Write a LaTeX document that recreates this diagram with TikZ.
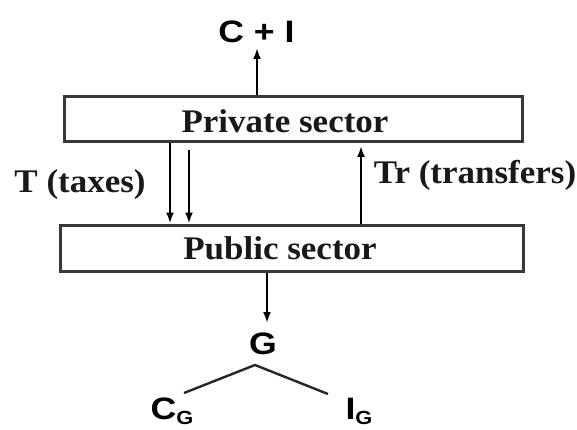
\documentclass[tikz,border=0pt]{standalone}
\usepackage{fontspec}
\newfontfamily\serifb[FakeStretch=1.06]{Liberation Serif}
\newfontfamily\sansb[FakeStretch=1.15]{Liberation Sans}
\usetikzlibrary{arrows.meta}
\newcommand{\subG}{\raisebox{-5pt}{\fontsize{19}{20}\selectfont G}}
\begin{document}
\begin{tikzpicture}[x=1pt,y=-1pt,
  sectorbox/.style={draw=black!78,line width=3pt,inner sep=0pt},
  serlabel/.style={inner sep=0pt,anchor=base,text=black!90,font=\serifb\bfseries\fontsize{33}{36}\selectfont},
  sanslabel/.style={inner sep=0pt,font=\sansb\bfseries\fontsize{31}{34}\selectfont},
  arr/.style={line width=2.6pt,-{Latex[length=11pt,width=8pt]}},
  branch/.style={line width=2.4pt,black!85}]
\useasboundingbox (0,0) rectangle (577,430);
\fill[white] (0,0) rectangle (577,430);
% boxes
\node[sectorbox,minimum width=458pt,minimum height=45pt] (private) at (293,119.5) {};
\node[serlabel] (privtext) at (285,133) {Private sector};
\node[sectorbox,minimum width=463pt,minimum height=46pt] (public) at (291.5,248) {};
\node[serlabel] (pubtext) at (280,259) {Public sector};
% labels
\node[sanslabel] (cpi) at (256.5,32) {C + I};
\node[serlabel] (taxes) at (80,193) {T (taxes)};
\node[serlabel] (transfers) at (475,183) {Tr (transfers)};
\node[sanslabel] (g) at (263,344) {G};
\node[sanslabel,anchor=base] (cg) at (172,419) {C\subG};
\node[sanslabel,anchor=base] (ig) at (359,419) {I\subG};
% helper coordinates
\coordinate (up) at (257,48);
\coordinate (t1) at (170,150);
\coordinate (t2) at (189,150);
\coordinate (tr) at (361,146);
\coordinate (gtip) at (267,323);
\coordinate (apex) at (255,365);
\coordinate (cgend) at (184,393);
\coordinate (igend) at (328,394);
% connectors
\draw[arr] (private.north -| up) -- (up);
\draw[arr] (private.south -| t1) -- (public.north -| t1);
\draw[arr] (t2) -- (public.north -| t2);
\draw[arr] (public.north -| tr) -- (tr);
\draw[arr] (public.south -| gtip) -- (gtip);
\draw[branch] (cgend) -- (apex) -- (igend);
\end{tikzpicture}
\end{document}
